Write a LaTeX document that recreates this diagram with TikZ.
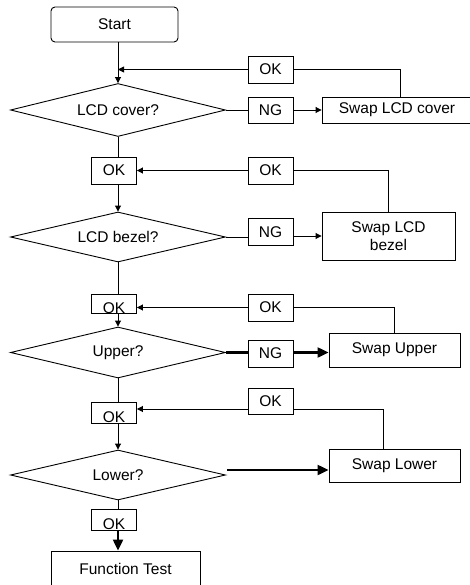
\documentclass[tikz,border=0pt]{standalone}
\usepackage{fontspec}
\setmainfont{Liberation Sans}
\usetikzlibrary{shapes.geometric,arrows.meta}
\tikzset{
  base/.style={draw=black, line width=0.9pt, inner sep=1pt, font=\fontsize{15.5}{17.5}\selectfont},
  rbox/.style={base, rounded corners=4pt, minimum width=127pt, minimum height=35pt},
  sbox/.style={base, minimum height=26pt},
  okbox/.style={base, minimum width=45pt, minimum height=27pt},
  dia/.style={base, diamond, aspect=4, minimum width=215pt, inner sep=0pt},
  ln/.style={line width=0.9pt},
  arr/.style={ln, -{Triangle[length=6pt,width=6pt]}},
  tarr/.style={line width=2.2pt, -{Triangle[length=11pt,width=10pt]}},
  tln/.style={line width=2.2pt}
}
\newcommand{\lowok}{\raisebox{-5pt}[9pt][0pt]{OK}}
\begin{document}
\begin{tikzpicture}[x=1pt,y=-1pt]
\useasboundingbox (0,0) rectangle (470,585);
\fill[white] (0,0) rectangle (470,585);
% start
\node[rbox] (start) at (114.5,24.5) {Start};
\node[dia, minimum height=53pt] (d1) at (118,110) {LCD cover?};
\node[okbox] (ok1) at (270.5,69.5) {OK};
\node[okbox, minimum height=26pt] (ng1) at (270.5,110) {NG};
\node[sbox, minimum width=150pt] (swap1) at (397,110) {Swap LCD cover};
\draw[arr] (start.south -| d1.north) -- (d1.north);
\draw[arr] (ok1.west) -- (ok1.west -| d1.north);
\draw[ln] (ok1.east) -| ([xshift=3pt]swap1.north);
\draw[ln] (d1.east) -- (ng1.west);
\draw[arr] (ng1.east) -- (swap1.west);
% second
\node[okbox] (oka) at (114,170.5) {OK};
\node[okbox] (okb) at (270.5,170.5) {OK};
\node[dia, minimum height=50pt] (d2) at (118,237) {LCD bezel?};
\node[okbox] (ng2) at (270.5,232) {NG};
\node[base, minimum width=133pt, minimum height=48pt, align=center] (swap2) at (388.5,236) {Swap LCD\\bezel};
\draw[ln] (d1.south) -- (d1.south |- oka.north);
\draw[arr] (okb.west) -- (oka.east);
\draw[ln] (okb.east) -| (swap2.north);
\draw[arr] (oka.south -| d2.north) -- (d2.north);
\draw[ln] (d2.east) -- (d2.east -| ng2.west);
\draw[arr] (ng2.east |- swap2.west) -- (swap2.west);
% third
\node[okbox, minimum height=19pt] (okc) at (114,303.5) {\lowok};
\node[okbox] (okd) at (270.5,307.5) {OK};
\node[dia, minimum height=51pt] (d3) at (118,352.5) {Upper?};
\node[okbox] (ng3) at (270.5,353.5) {NG};
\node[base, minimum width=131pt, minimum height=34pt] (swap3) at (394.5,350) {Swap Upper};
\draw[ln] (d2.south) -- (d2.south |- okc.north);
\draw[arr] (okd.west) -- (okd.west -| okc.east);
\draw[ln] (okd.east) -| (swap3.north);
\draw[arr] (okc.south -| d3.north) -- (d3.north);
\draw[tln] (d3.east) -- (d3.east -| ng3.west);
\draw[tarr] (ng3.east |- d3.east) -- (d3.east -| swap3.west);
% fourth
\node[okbox, minimum height=21pt] (oke) at (114,412.5) {\lowok};
\node[okbox, minimum height=26pt] (okf) at (270.5,401) {OK};
\node[dia, minimum height=50pt] (d4) at (118,475) {Lower?};
\node[base, minimum width=131pt, minimum height=33pt] (swap4) at (394.5,466) {Swap Lower};
\draw[ln] (d3.south) -- (d3.south |- oke.north);
\draw[arr] ([yshift=-8pt]okf.west) coordinate (p) -- (p -| oke.east);
\draw[ln] ([yshift=-8pt]okf.east) -| ([xshift=-11pt]swap4.north);
\draw[arr] (oke.south -| d4.north) -- (d4.north);
\draw[tarr] ([xshift=1pt,yshift=5pt]d4.east) coordinate (q) -- (q -| swap4.west);
% fifth
\node[okbox, minimum height=21pt] (okg) at (114,520) {\lowok};
\node[base, minimum width=149pt, minimum height=36pt] (ft) at (125.5,569) {Function Test};
\draw[ln] (d4.south) -- (d4.south |- okg.north);
\draw[tarr] (okg.south -| d4.south) -- (d4.south |- ft.north);
\end{tikzpicture}
\end{document}
